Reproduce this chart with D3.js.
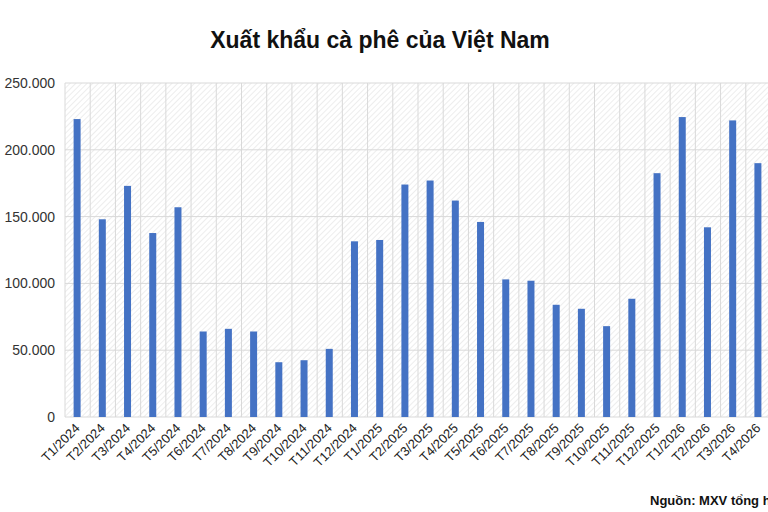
<!DOCTYPE html><html><head><meta charset="utf-8"><script src="https://cdn.jsdelivr.net/npm/d3@7"></script>
<style>body{margin:0;background:#fff;font-family:"Liberation Sans",Arial,sans-serif}</style></head><body><svg id="c" width="768" height="512"></svg>
<script>
const categories=["T1/2024","T2/2024","T3/2024","T4/2024","T5/2024","T6/2024","T7/2024","T8/2024","T9/2024","T10/2024","T11/2024","T12/2024","T1/2025","T2/2025","T3/2025","T4/2025","T5/2025","T6/2025","T7/2025","T8/2025","T9/2025","T10/2025","T11/2025","T12/2025","T1/2026","T2/2026","T3/2026","T4/2026"];
const values=[223000,148000,173000,137700,157000,64000,66000,64000,41000,42500,51000,131500,132500,174000,177000,162000,146000,103000,102000,84000,81000,68000,88500,182500,224500,142000,222000,190000];
const yTicks=[0,50000,100000,150000,200000,250000];
const svg=d3.select("#c");
const L=65,R=771,T=83,B=417;
const x=d3.scaleBand().domain(categories).range([L,R]);
const y=d3.scaleLinear().domain([0,250000]).range([B,T]);
const defs=svg.append("defs");
const p=defs.append("pattern").attr("id","h").attr("width",4).attr("height",4).attr("patternUnits","userSpaceOnUse").attr("patternTransform","rotate(45)");
p.append("rect").attr("width",4).attr("height",4).attr("fill","#fff");
p.append("line").attr("x1",0).attr("y1",0).attr("x2",0).attr("y2",4).attr("stroke","#e2e2e2").attr("stroke-width",1.2);
svg.append("rect").attr("x",L).attr("y",T).attr("width",R-L).attr("height",B-T).attr("fill","url(#h)");
svg.append("g").selectAll("line").data(yTicks).join("line").attr("x1",L).attr("x2",R).attr("y1",d=>y(d)).attr("y2",d=>y(d)).attr("stroke","#d9d9d9");
svg.append("g").selectAll("line").data(categories).join("line").attr("x1",d=>x(d)).attr("x2",d=>x(d)).attr("y1",T).attr("y2",B).attr("stroke","#d9d9d9");
svg.append("g").selectAll("text").data(yTicks).join("text").attr("x",55).attr("y",d=>y(d)+5).attr("text-anchor","end").attr("font-size",14).attr("fill","#333").text(d=>d3.format(",")(d).replace(/,/g,"."));
const bw=7;
svg.append("g").selectAll("rect").data(values).join("rect").attr("x",(d,i)=>x(categories[i])+x.bandwidth()/2-bw/2-0.5).attr("width",bw).attr("y",d=>y(d)).attr("height",d=>B-y(d)).attr("fill","#4472c4");
svg.append("g").selectAll("text").data(categories).join("text").attr("transform",d=>`translate(${x(d)+x.bandwidth()/2+3},${B+12}) rotate(-45)`).attr("text-anchor","end").attr("font-size",13).attr("fill","#222").text(d=>d);
svg.append("text").attr("x",380).attr("y",48).attr("text-anchor","middle").attr("font-size",23).attr("font-weight","bold").attr("fill","#111").text("Xuất khẩu cà phê của Việt Nam");
svg.append("text").attr("x",650).attr("y",505).attr("font-size",13).attr("font-weight","bold").attr("fill","#111").text("Nguồn: MXV tổng hợp");
</script></body></html>
